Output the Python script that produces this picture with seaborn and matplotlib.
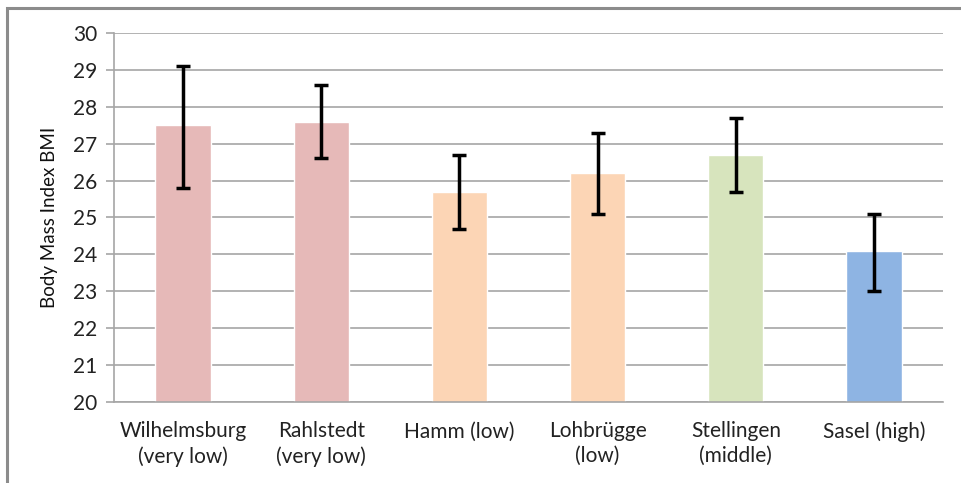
import pandas as pd
import seaborn as sns
import matplotlib.pyplot as plt
from matplotlib.patches import Rectangle

# values
districts = ['Wilhelmsburg\n(very low)', 'Rahlstedt\n(very low)', 'Hamm (low)',
             'Lohbrügge\n(low)', 'Stellingen\n(middle)', 'Sasel (high)']
bmi = [27.5, 27.6, 25.7, 26.2, 26.7, 24.1]
err_low = [1.7, 1.0, 1.0, 1.1, 1.0, 1.1]
err_high = [1.6, 1.0, 1.0, 1.1, 1.0, 1.0]
bar_colors = ['#E6B9B8', '#E6B9B8', '#FCD5B5', '#FCD5B5', '#D7E4BD', '#8EB4E3']

df = pd.DataFrame({'district': districts, 'bmi': bmi})

sns.set_style('white')
plt.rcParams['font.family'] = ['Lato', 'DejaVu Sans']

fig = plt.figure(figsize=(9.61, 4.83), dpi=100)
ax = fig.add_axes([0.1186, 0.1677, 0.8627, 0.764])

sns.barplot(data=df, x='district', y='bmi', hue='district', palette=bar_colors,
            saturation=1, legend=False, width=0.4, ax=ax, zorder=2)
ax.errorbar(range(len(districts)), bmi, yerr=[err_low, err_high], fmt='none',
            ecolor='black', elinewidth=2.5, capsize=5, capthick=2.5, zorder=3)

ax.set_ylim(20, 30)
ax.set_xlim(-0.5, len(districts) - 0.5)
ax.set_yticks(range(20, 31))
ax.yaxis.grid(True, color='#A6A6A6', linewidth=1.2, zorder=0)
ax.set_axisbelow(True)

for s in ['top', 'right']:
    ax.spines[s].set_visible(False)
for s in ['left', 'bottom']:
    ax.spines[s].set_color('#A6A6A6')
    ax.spines[s].set_linewidth(1.2)

# category ticks sit between the bars
ax.set_xticks([i - 0.5 for i in range(len(districts) + 1)], minor=True)
ax.tick_params(axis='x', which='minor', length=6, color='#A6A6A6', width=1.2)
ax.tick_params(axis='x', which='major', length=0, pad=14, labelsize=15, labelcolor='#222222')
for lbl in ax.get_xticklabels():
    lbl.set_linespacing(1.3)
ax.tick_params(axis='y', length=6, color='#A6A6A6', width=1.2, labelsize=15,
               labelcolor='#222222', pad=6, left=True)

ax.set_xlabel('')
ax.set_ylabel('Body Mass Index BMI', fontsize=13.5, color='#111111', labelpad=11)

# outer chart frame (only top and left edges visible)
fig.patches.append(Rectangle((7 / 961, -0.1), 1.2, 1 - 8 / 483 + 0.1,
                             transform=fig.transFigure, fill=False,
                             edgecolor='#8C8C8C', linewidth=2.2))

plt.savefig('out.png', dpi=100)
